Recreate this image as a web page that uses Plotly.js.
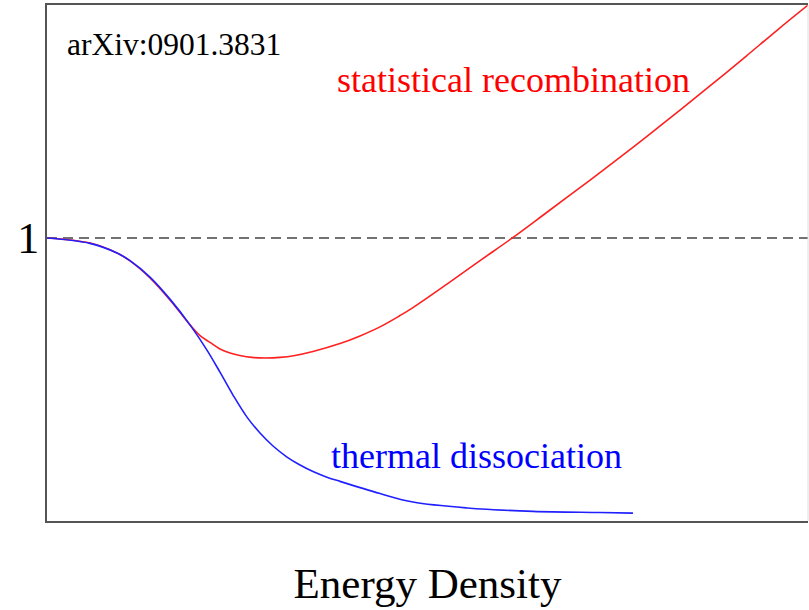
<!DOCTYPE html>
<html>
<head>
<meta charset="utf-8">
<script src="https://cdn.plot.ly/plotly-3.0.1.min.js"></script>
<style>
  html, body { margin: 0; padding: 0; background: #ffffff; }
  #chart { width: 809px; height: 610px; }
</style>
</head>
<body>
<div id="chart"></div>
<script>
// Energy density (arbitrary units) and the normalised ratio for each scenario
const recombX = [0, 0.565, 0.920, 1.091, 1.353, 1.616, 1.879, 2.011, 2.142, 2.273, 2.405, 2.536, 2.694, 2.865, 3.062, 3.259, 3.495, 3.850, 4.113, 4.376, 4.639, 4.809, 5.256, 5.690, 6.124, 6.570, 7.004, 7.438, 7.884, 8.318, 8.752, 9.185, 9.593, 10];
const recombY = [1.000, 0.982, 0.947, 0.919, 0.859, 0.781, 0.693, 0.655, 0.631, 0.608, 0.594, 0.585, 0.578, 0.576, 0.578, 0.585, 0.599, 0.627, 0.654, 0.686, 0.726, 0.754, 0.837, 0.920, 1.002, 1.091, 1.178, 1.266, 1.359, 1.452, 1.546, 1.642, 1.734, 1.823];

const dissocX = [0, 0.565, 0.920, 1.091, 1.353, 1.616, 1.879, 2.102, 2.273, 2.444, 2.628, 2.799, 2.970, 3.154, 3.325, 3.495, 3.679, 3.850, 4.376, 4.809, 5.519, 6.386, 7.267, 7.700];
const dissocY = [1.000, 0.981, 0.947, 0.920, 0.862, 0.784, 0.693, 0.604, 0.526, 0.445, 0.367, 0.311, 0.265, 0.226, 0.198, 0.175, 0.155, 0.140, 0.097, 0.067, 0.046, 0.034, 0.030, 0.028];

// Reference level
const refX = [0, 10];
const refY = [1, 1];

const yTickVals = [1];
const yTickText = ['1'];

const serif = 'Liberation Serif, Times New Roman, serif';

const traces = [
  {
    x: refX, y: refY, mode: 'lines', hoverinfo: 'skip',
    line: { color: '#444444', width: 1.5, dash: '10px,6px' }
  },
  {
    x: recombX, y: recombY, mode: 'lines', name: 'statistical recombination',
    line: { color: '#ff2020', width: 1.6, shape: 'spline', smoothing: 1 }
  },
  {
    x: dissocX, y: dissocY, mode: 'lines', name: 'thermal dissociation',
    line: { color: '#2020ff', width: 1.6, shape: 'spline', smoothing: 1 }
  }
];

const layout = {
  width: 809,
  height: 610,
  margin: { l: 47, r: 1, t: 5, b: 89 },
  paper_bgcolor: '#ffffff',
  plot_bgcolor: '#ffffff',
  showlegend: false,
  xaxis: {
    range: [0, 10],
    showgrid: false, zeroline: false,
    showticklabels: false, ticks: '',
    showline: true, mirror: true, linecolor: '#555555', linewidth: 2,
    title: { text: 'Energy Density', font: { family: serif, size: 43, color: '#000000' }, standoff: 46 }
  },
  yaxis: {
    range: [0, 1.8233],
    showgrid: false, zeroline: false,
    tickmode: 'array', tickvals: yTickVals, ticktext: yTickText,
    ticks: '', tickfont: { family: serif, size: 44, color: '#000000' },
    ticklabelstandoff: -3,
    showline: true, linecolor: '#555555', linewidth: 2
  },
  shapes: [
    {
      type: 'line', xref: 'paper', yref: 'paper',
      x0: 1, x1: 1, y0: 0, y1: 1,
      line: { color: '#dddddd', width: 1 }
    }
  ],
  annotations: [
    {
      text: 'arXiv:0901.3831', xref: 'paper', yref: 'paper',
      x: 0.024, y: 0.924, xanchor: 'left', yanchor: 'middle', showarrow: false,
      font: { family: serif, size: 31.5, color: '#000000' }
    },
    {
      text: 'statistical recombination', xref: 'paper', yref: 'paper',
      x: 0.378, y: 0.855, xanchor: 'left', yanchor: 'middle', showarrow: false,
      font: { family: serif, size: 36, color: '#ff0000' }
    },
    {
      text: 'thermal dissociation', xref: 'paper', yref: 'paper',
      x: 0.371, y: 0.126, xanchor: 'left', yanchor: 'middle', showarrow: false,
      font: { family: serif, size: 36, color: '#0000ff' }
    }
  ]
};

Plotly.newPlot('chart', traces, layout, { displayModeBar: false, staticPlot: true });
</script>
</body>
</html>
